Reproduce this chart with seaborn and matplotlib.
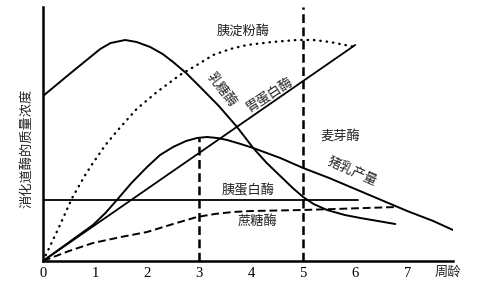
import matplotlib
matplotlib.use("Agg")
import matplotlib.pyplot as plt
import seaborn as sns

sns.set_theme(style="white")
plt.rcParams['font.family'] = ['Noto Sans CJK SC', 'DejaVu Sans']

# ---- data (y in arbitrary concentration units) ----
lactase_x = [0, 0.58, 1.1, 1.3, 1.58, 1.8, 2.06, 2.3, 2.5, 2.75, 3.02, 3.38, 3.73, 4.04,
             4.3, 4.56, 4.8, 5.0, 5.2, 5.46, 5.8, 6.1, 6.77]
lactase_y = [165, 190, 212, 218, 221, 219, 214, 207, 199, 188, 174, 155, 134, 113,
             98, 85, 73, 64, 57, 51, 46, 43, 37]

amylase_x = [0, 0.3, 0.56, 0.8, 0.96, 1.2, 1.44, 1.8, 2.19, 2.63, 2.96, 3.27, 3.6,
             3.92, 4.4, 4.88, 5.2, 5.52, 6.0]
amylase_y = [0, 33, 63, 85, 98, 116, 131, 152, 169, 186, 196, 206, 212,
             216, 219, 221, 221, 219, 214]

pepsin_x = [0, 1, 6]
pepsin_y = [0, 36, 216]

milk_x = [0, 0.96, 1.2, 1.42, 1.7, 2.0, 2.25, 2.5, 2.75, 2.96, 3.15, 3.35, 3.54, 3.8,
          4.04, 4.3, 4.56, 5.0, 5.5, 6.0, 6.5, 7.0, 7.5, 7.88]
milk_y = [0, 36, 48, 61, 78, 94, 106, 114, 120, 123, 124, 123, 121, 117,
          113, 108, 103, 93, 83, 72, 61, 50, 40, 31]

trypsin_x = [0, 6.05]
trypsin_y = [61, 61]

sucrase_x = [0, 0.5, 0.96, 1.5, 2.0, 2.5, 2.96, 3.3, 3.65, 4.0, 5.0, 6.8]
sucrase_y = [0, 10, 18, 24, 29, 37, 44, 47, 49, 50, 51, 54]

marker3_x = [3, 3]
marker3_y = [0, 123]
marker5_x = [5, 5]
marker5_y = [0, 254]

xticks = [0, 1, 2, 3, 4, 5, 6, 7]

labels = ["胰淀粉酶", "乳糖酶", "胃蛋白酶", "麦芽酶", "猪乳产量", "胰蛋白酶", "蔗糖酶"]
label_x = [3.85, 3.43, 4.36, 5.71, 5.94, 3.94, 4.12]
label_y = [230, 171, 166, 125, 89, 70, 40]
label_rot = [0, -52, 33, 0, -24, 0, 0]

x_title = "周龄"
y_title = "消化道酶的质量浓度"

# ---- figure ----
fig = plt.figure(figsize=(4.8, 3.0), dpi=100)
ax = fig.add_axes([43 / 480, 39 / 300, 410 / 480, 254 / 300])

k = dict(color="black", ax=ax, legend=False, estimator=None, sort=False)
sns.lineplot(x=lactase_x, y=lactase_y, linewidth=1.4, **k)
sns.lineplot(x=pepsin_x, y=pepsin_y, linewidth=1.3, **k)
sns.lineplot(x=milk_x, y=milk_y, linewidth=1.4, **k)
sns.lineplot(x=trypsin_x, y=trypsin_y, linewidth=1.3, **k)
sns.lineplot(x=amylase_x, y=amylase_y, linewidth=1.7, **k)
ax.lines[-1].set_linestyle((0, (0.2, 2.5)))
ax.lines[-1].set_dash_capstyle("round")
sns.lineplot(x=sucrase_x, y=sucrase_y, linewidth=1.4, **k)
ax.lines[-1].set_linestyle((0, (4, 2)))
sns.lineplot(x=marker3_x, y=marker3_y, linewidth=1.8, **k)
ax.lines[-1].set_linestyle((0, (3.5, 1.8)))
sns.lineplot(x=marker5_x, y=marker5_y, linewidth=1.8, **k)
ax.lines[-1].set_linestyle((0, (3.5, 1.8)))

for t, x, y, r in zip(labels, label_x, label_y, label_rot):
    ax.text(x, y, t, ha="center", va="center", rotation=r, fontsize=9.5,
            color="#222222", rotation_mode="anchor")

ax.set_xlim(0, 7.88)
ax.set_ylim(0, 254)
ax.set_xticks(xticks)
ax.set_xticklabels([str(v) for v in xticks], fontfamily="Liberation Serif", fontsize=10.5)
ax.set_yticks([])
ax.tick_params(axis="x", direction="in", length=3, width=1.3, pad=4, colors="black")
for s in ["top", "right"]:
    ax.spines[s].set_visible(False)
for s in ["left", "bottom"]:
    ax.spines[s].set_color("black")
    ax.spines[s].set_linewidth(1.8)

ax.text(7.79, -11, x_title, ha="center", va="center", fontsize=9.5, color="#222222", clip_on=False)
fig.text(27 / 480, 1 - 148 / 300, y_title, rotation=90, ha="center", va="center",
         fontsize=9.5, color="#222222")

fig.savefig("out.png", dpi=100)
